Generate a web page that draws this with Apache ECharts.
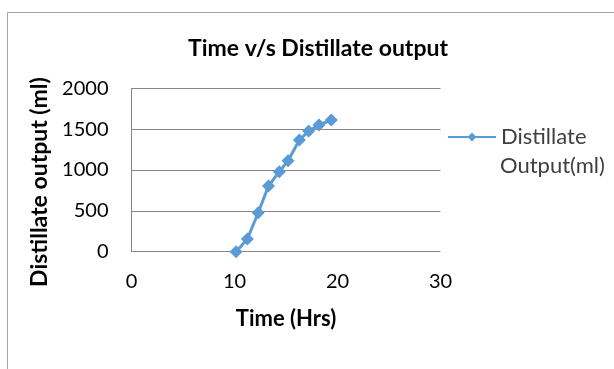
<!DOCTYPE html>
<html>
<head>
<meta charset="utf-8">
<script src="https://cdn.jsdelivr.net/npm/echarts@6/dist/echarts.min.js"></script>
<style>
  html, body { margin: 0; padding: 0; background: #fff; }
  #frame { position: absolute; left: 0; top: 0; width: 614px; height: 369px; }
  #border { position: absolute; left: 7px; top: 12px; width: 620px; height: 380px;
            border-left: 1px solid #a6a6a6; border-top: 1px solid #a6a6a6; }
  #chart { position: absolute; left: 0; top: 0; width: 614px; height: 369px; }
</style>
</head>
<body>
<div id="frame">
  <div id="border"></div>
  <div id="chart"></div>
</div>
<script>
const timeHrs = [10.15, 11.25, 12.3, 13.3, 14.35, 15.2, 16.3, 17.2, 18.2, 19.4];
const distillate = [0, 155, 477, 804, 979, 1114, 1367, 1477, 1551, 1612];
const seriesName = 'Distillate';

const font = 'Lato, "Open Sans", sans-serif';
const chart = echarts.init(document.getElementById('chart'));

chart.setOption({
    animation: false,
    title: {
        text: 'Time v/s Distillate output',
        left: 313,
        textAlign: 'center',
        top: 32,
        textStyle: {fontFamily: font, fontSize: 23, fontWeight: 'bold', color: '#000'}
    },
    legend: {
        left: 442,
        top: 121,
        itemWidth: 48,
        itemHeight: 11,
        textStyle: {fontFamily: font, fontSize: 22, color: '#404040'},
        data: [seriesName]
    },
    // second line of the legend label
    graphic: [{
        type: 'text',
        left: 500,
        top: 155,
        style: {text: 'Output(ml)', fontFamily: font, fontSize: 22, fill: '#404040'}
    }],
    grid: {left: 131.5, right: 173.5, top: 88.3, bottom: 117.3},
    xAxis: {
        type: 'value',
        min: 0, max: 30, interval: 10,
        name: 'Time (Hrs)',
        nameLocation: 'middle',
        nameGap: 56,
        nameTextStyle: {fontFamily: font, fontSize: 22, fontWeight: 'bold', color: '#000'},
        axisLine: {show: false},
        axisTick: {show: false},
        splitLine: {show: false},
        axisLabel: {fontFamily: font, fontSize: 20, color: '#000', margin: 20}
    },
    yAxis: {
        type: 'value',
        min: 0, max: 2000, interval: 500,
        name: 'Distillate output (ml)',
        nameLocation: 'middle',
        nameGap: 78,
        nameTextStyle: {fontFamily: font, fontSize: 23, fontWeight: 'bold', color: '#000',
                        padding: [0, 24, 0, 0]},
        axisLine: {show: true, lineStyle: {color: '#868686'}},
        axisTick: {show: false},
        splitLine: {lineStyle: {color: '#868686'}},
        axisLabel: {fontFamily: font, fontSize: 20, color: '#000', margin: 23,
                    formatter: v => String(v)}
    },
    series: [{
        name: seriesName,
        type: 'line',
        data: timeHrs.map((t, i) => [t, distillate[i]]),
        symbol: 'diamond',
        symbolSize: 13,
        lineStyle: {color: '#5b9bd5', width: 3},
        itemStyle: {color: '#5b9bd5'}
    }]
});
</script>
</body>
</html>
